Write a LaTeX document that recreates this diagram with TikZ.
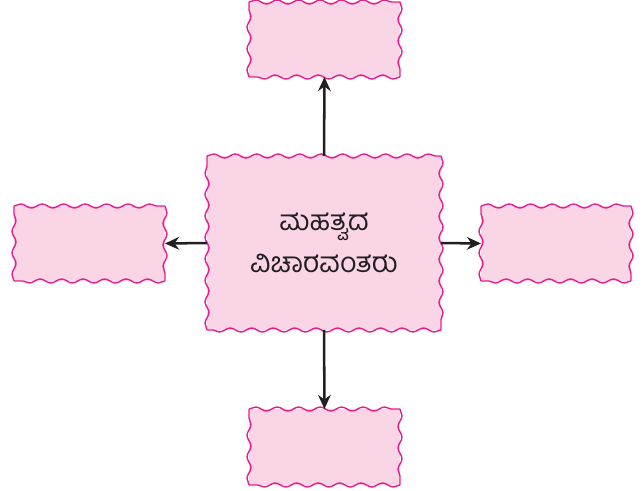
\documentclass[tikz,border=0pt]{standalone}
\usepackage{fontspec}
\newfontfamily\kannadafont[Script=Kannada]{Hind Mysuru}
\usetikzlibrary{arrows.meta,decorations.pathmorphing}
\definecolor{boxfill}{RGB}{249,213,229}
\definecolor{boxline}{RGB}{232,30,140}
\definecolor{arrowgray}{RGB}{35,31,32}
\tikzset{
	wavybox/.style={fill=boxfill, inner sep=0pt, outer sep=0pt},
	waveline/.style={draw=boxline, line width=1pt, line join=round,
		decorate, decoration={snake, segment length=0.537cm, amplitude=0.05cm}},
	outarrow/.style={draw=arrowgray, line width=1.8pt, -{Stealth[length=10pt,width=9pt]}}
}
% four wavy sides round a named node
\newcommand\wavyframe[1]{%
	\draw[waveline] (#1.north west) -- (#1.north east);
	\draw[waveline] (#1.north east) -- (#1.south east);
	\draw[waveline] (#1.south east) -- (#1.south west);
	\draw[waveline] (#1.south west) -- (#1.north west);
}
\begin{document}
\begin{tikzpicture}
		%%%%% START %%%%%
		\useasboundingbox (0, 0) rectangle (16.1, -12.275);
		
		\node[wavybox, minimum width=5.85cm, minimum height=4.35cm, align=center,
			font=\kannadafont\fontsize{20}{30}\selectfont, text=arrowgray] (main) at (8.1, -6.075) {ಮಹತ್ವದ\\ವಿಚಾರವಂತರು};
		\wavyframe{main}
		
		\node[wavybox, minimum width=3.775cm, minimum height=1.875cm] (top) at (8.1125, -0.9875) {};
		\wavyframe{top}
		\node[wavybox, minimum width=3.775cm, minimum height=1.875cm] (left) at (2.2375, -6.0875) {};
		\wavyframe{left}
		\node[wavybox, minimum width=3.75cm, minimum height=1.875cm] (right) at (13.9, -6.0875) {};
		\wavyframe{right}
		\node[wavybox, minimum width=3.775cm, minimum height=1.9cm] (bottom) at (8.1125, -11.175) {};
		\wavyframe{bottom}
		
		\draw[outarrow] (main.north) -- (top.south);
		\draw[outarrow] (main.west) -- (left.east);
		\draw[outarrow] (main.east) -- (right.west);
		\draw[outarrow] (main.south) -- (bottom.north);
		%%%%% END %%%%%
	\end{tikzpicture}
\end{document}
